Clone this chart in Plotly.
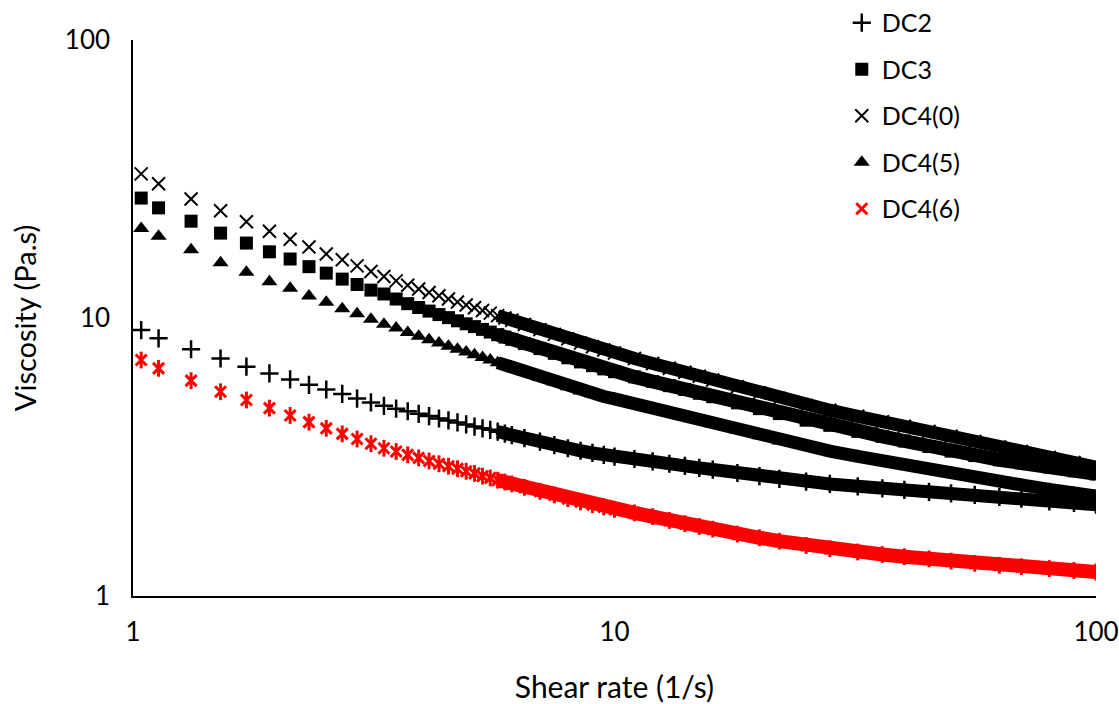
import plotly.graph_objects as go

# Shear rate (1/s)
x_rate = [1.04, 1.13, 1.32, 1.52, 1.72, 1.92, 2.12, 2.32, 2.52, 2.72, 2.92, 3.12, 3.32, 3.52,
          3.72, 3.92, 4.12, 4.32, 4.52, 4.72, 4.92, 5.12, 5.32, 5.52, 5.72, 5.92, 6.12,
          6.5, 7, 7.5, 8, 8.5, 9, 9.5, 10, 11, 12, 13, 14, 15, 16, 18, 20, 22, 25, 28,
          32, 36, 40, 45, 50, 56, 63, 70, 80, 90, 100]

dc2 = [9.05, 8.45, 7.72, 7.15, 6.68, 6.32, 6.01, 5.75, 5.53, 5.33, 5.13, 4.97, 4.83, 4.72,
       4.62, 4.52, 4.44, 4.35, 4.28, 4.21, 4.14, 4.07, 4.01, 3.96, 3.90, 3.84, 3.79,
       3.70, 3.59, 3.49, 3.40, 3.33, 3.27, 3.22, 3.17, 3.11, 3.05, 2.99, 2.94, 2.89, 2.85,
       2.77, 2.70, 2.64, 2.58, 2.53, 2.48, 2.44, 2.41, 2.37, 2.34, 2.31, 2.27, 2.24, 2.19,
       2.16, 2.13]

dc3 = [27.0, 24.9, 22.3, 20.2, 18.6, 17.3, 16.3, 15.3, 14.5, 13.8, 13.2, 12.6, 12.2, 11.7,
       11.26, 10.91, 10.59, 10.29, 10.03, 9.77, 9.53, 9.31, 9.10, 8.90, 8.71, 8.54, 8.38,
       8.09, 7.76, 7.46, 7.19, 6.95, 6.74, 6.56, 6.41, 6.14, 5.91, 5.71, 5.53, 5.36, 5.21,
       4.95, 4.72, 4.53, 4.29, 4.11, 3.91, 3.75, 3.61, 3.45, 3.32, 3.20, 3.09, 3.01, 2.91,
       2.82, 2.75]

dc4_0 = [33.0, 30.4, 26.8, 24.3, 22.2, 20.5, 19.2, 18.0, 17.0, 16.2, 15.4, 14.7, 14.1, 13.6,
         13.11, 12.72, 12.35, 12.02, 11.71, 11.41, 11.14, 10.88, 10.64, 10.41, 10.20, 10.0, 9.81,
         9.48, 9.08, 8.73, 8.41, 8.12, 7.88, 7.67, 7.48, 7.15, 6.86, 6.60, 6.38, 6.17, 5.98,
         5.66, 5.38, 5.14, 4.85, 4.66, 4.43, 4.24, 4.08, 3.91, 3.76, 3.60, 3.44, 3.31, 3.15,
         3.02, 2.91]

dc4_5 = [21.0, 19.7, 17.6, 15.8, 14.6, 13.5, 12.8, 12.0, 11.4, 10.8, 10.35, 9.9, 9.5, 9.2,
         8.86, 8.60, 8.36, 8.13, 7.92, 7.72, 7.55, 7.37, 7.21, 7.06, 6.91, 6.77, 6.64,
         6.41, 6.12, 5.88, 5.66, 5.46, 5.33, 5.22, 5.12, 4.91, 4.73, 4.56, 4.42, 4.28, 4.16,
         3.95, 3.77, 3.61, 3.45, 3.32, 3.18, 3.06, 2.95, 2.84, 2.74, 2.65, 2.57, 2.51, 2.42,
         2.35, 2.29]

dc4_6 = [7.06, 6.59, 5.95, 5.43, 5.07, 4.74, 4.46, 4.22, 4.01, 3.83, 3.67, 3.53, 3.40, 3.31,
         3.22, 3.14, 3.06, 2.99, 2.93, 2.87, 2.81, 2.76, 2.70, 2.66, 2.61, 2.57, 2.53,
         2.46, 2.38, 2.31, 2.24, 2.18, 2.13, 2.09, 2.05, 1.99, 1.93, 1.87, 1.82, 1.78, 1.74,
         1.67, 1.62, 1.575, 1.52, 1.48, 1.44, 1.41, 1.385, 1.36, 1.335, 1.31, 1.29, 1.275, 1.255,
         1.235, 1.22]

series_names = ["DC2", "DC3", "DC4(0)", "DC4(5)", "DC4(6)"]
series_vals = [dc2, dc3, dc4_0, dc4_5, dc4_6]
for v in series_vals:
    assert len(v) == len(x_rate)

styles = {
    "DC2": dict(symbol="cross-thin", size=13, color="black", lw=2.5, band=13),
    "DC3": dict(symbol="square", size=13, color="black", lw=0, band=14),
    "DC4(0)": dict(symbol="x-thin", size=13, color="black", lw=2, band=13),
    "DC4(5)": dict(symbol="triangle-up", size=14, color="black", lw=0, band=13),
    "DC4(6)": dict(symbol="x-thin", size=11, color="red", lw=3, band=14),
}

DENSE_START = 24  # where the measured points merge into a continuous band
FONT = "Lato, Calibri, Carlito, sans-serif"

fig = go.Figure()
for name, vals in zip(series_names, series_vals):
    st = styles[name]
    # continuous band where markers overlap
    fig.add_trace(go.Scatter(
        x=x_rate[DENSE_START:], y=vals[DENSE_START:], mode="lines",
        line=dict(color=st["color"], width=st["band"]), legendgroup=name, showlegend=False,
        hoverinfo="skip"))
    if name == "DC4(6)":
        fig.add_trace(go.Scatter(
            x=x_rate, y=vals, mode="markers", legendgroup=name, showlegend=False,
            marker=dict(symbol="line-ns", size=12, color=st["color"],
                        line=dict(color=st["color"], width=3))))
    fig.add_trace(go.Scatter(
        x=x_rate, y=vals, mode="markers", name=name, legendgroup=name,
        marker=dict(symbol=st["symbol"], size=st["size"], color=st["color"],
                    line=dict(color=st["color"], width=st["lw"]))))

fig.update_layout(
    width=1119, height=704,
    margin=dict(l=133, r=23, t=40, b=108, autoexpand=False),
    paper_bgcolor="white", plot_bgcolor="white",
    font=dict(family=FONT, size=26, color="black"),
    showlegend=True,
    legend=dict(x=0.736, y=1.072, xanchor="left", yanchor="top",
                bgcolor="rgba(0,0,0,0)", font=dict(size=25, family=FONT),
                tracegroupgap=11, itemsizing="trace"),
)
fig.update_xaxes(type="log", range=[0, 2], tickvals=[1, 10, 100], ticktext=["1", "10", "100"],
                 showline=True, linecolor="black", linewidth=1.5, showgrid=False, zeroline=False,
                 ticks="", ticklabelstandoff=12, tickfont=dict(size=26),
                 title=dict(text="Shear rate (1/s)", font=dict(size=30), standoff=33))
fig.update_yaxes(type="log", range=[0, 2], tickvals=[1, 10, 100], ticktext=["1", "10", "100"],
                 showline=True, linecolor="black", linewidth=1.5, showgrid=False, zeroline=False,
                 ticks="", ticklabelstandoff=16, tickfont=dict(size=26),
                 title=dict(text="Viscosity (Pa.s)", font=dict(size=29), standoff=20))

# remove the default 8 px page margin so the figure fills the window exactly
fig.write_html("out.html", config={"displayModeBar": False},
               post_script="document.body.style.margin='0';")
